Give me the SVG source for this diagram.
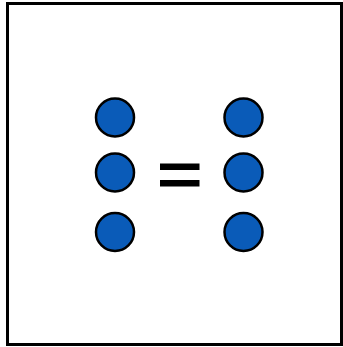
<svg xmlns="http://www.w3.org/2000/svg" width="343" height="347" viewBox="0 0 343 347">
<style>
.dot{fill:#0a5bb8;stroke:#000;stroke-width:2.5}
.bar{fill:#000}
</style>
<rect x="0" y="0" width="343" height="347" fill="#fff"/>
<rect x="7.5" y="3.5" width="334" height="341" fill="none" stroke="#000" stroke-width="3"/>
<g id="left-top"><circle class="dot" cx="115" cy="117.5" r="19"/></g>
<g id="left-mid"><circle class="dot" cx="115" cy="172.5" r="19"/></g>
<g id="left-bot"><circle class="dot" cx="115" cy="232" r="19"/></g>
<g id="right-top"><circle class="dot" cx="243.5" cy="117.5" r="19"/></g>
<g id="right-mid"><circle class="dot" cx="243.5" cy="172.5" r="19"/></g>
<g id="right-bot"><circle class="dot" cx="243.5" cy="232" r="19"/></g>
<g id="equals">
<rect class="bar" x="160" y="163.5" width="39.5" height="6.5"/>
<rect class="bar" x="160" y="180" width="39.5" height="6.5"/>
</g>
<g id="connectors"/>
</svg>
